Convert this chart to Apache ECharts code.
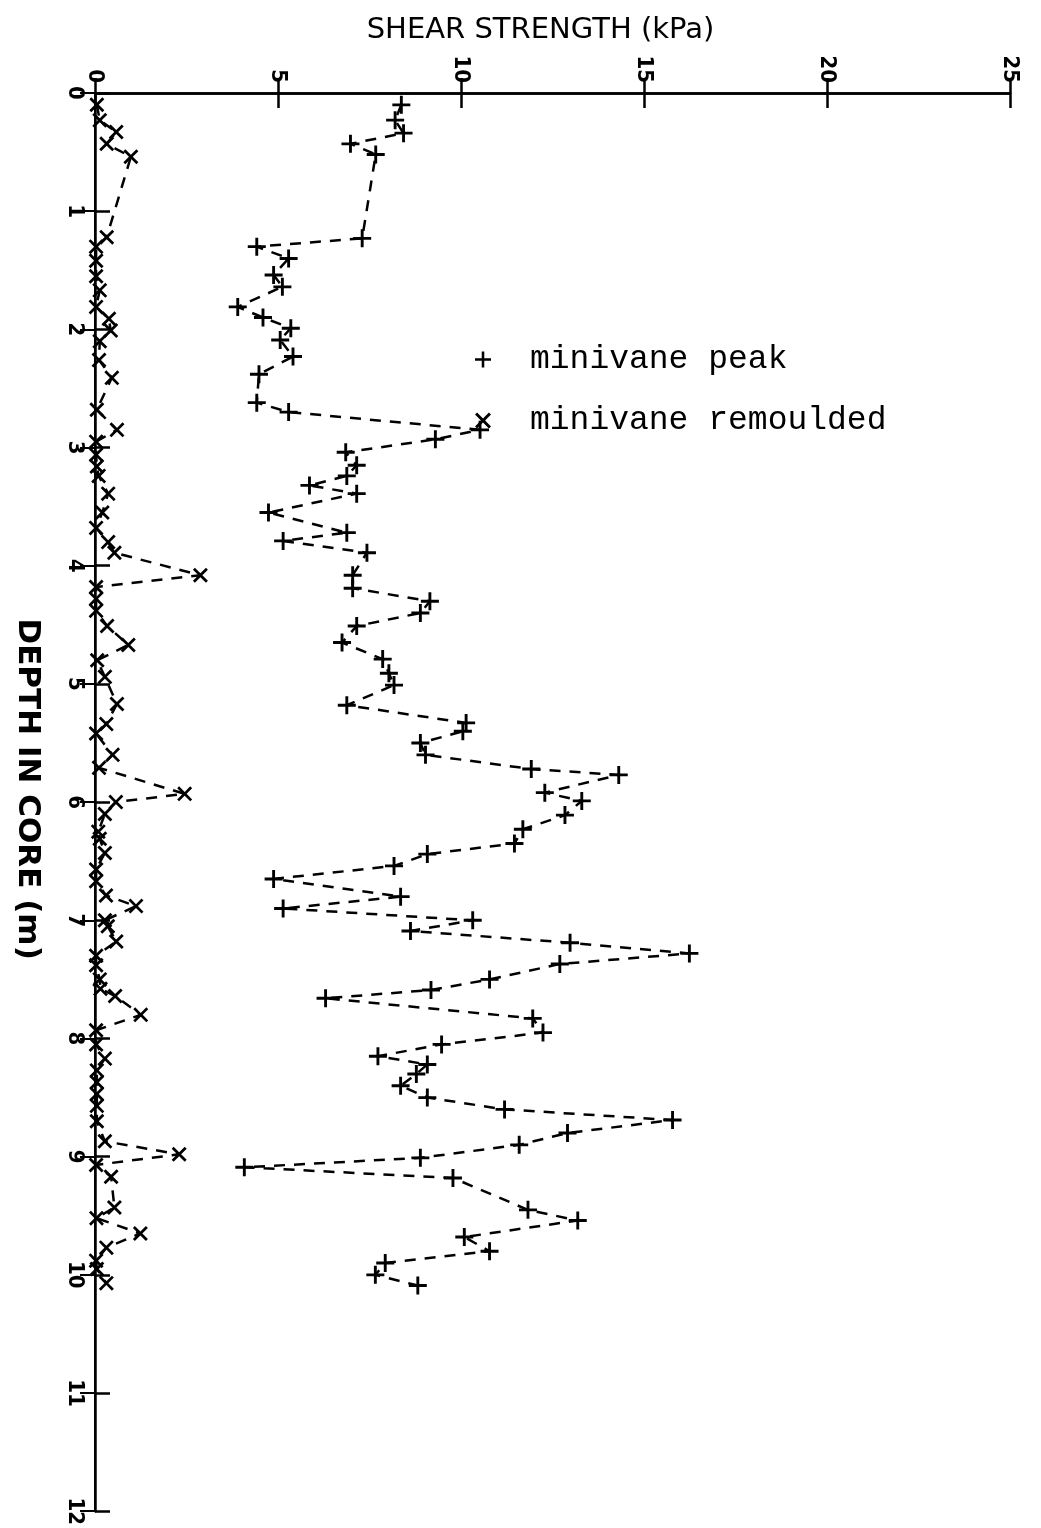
<!DOCTYPE html>
<html>
<head>
<meta charset="utf-8">
<script src="https://cdn.jsdelivr.net/npm/echarts@6/dist/echarts.min.js"></script>
<style>
  html, body { margin: 0; padding: 0; background: #fff; }
  #chart { width: 1041px; height: 1528px; }
</style>
</head>
<body>
<div id="chart"></div>
<script>
// Shear strength axis (kPa) and depth axis (m)
const strengthTicks = [0, 5, 10, 15, 20, 25];
const depthTicks = [0, 1, 2, 3, 4, 5, 6, 7, 8, 9, 10, 11, 12];

// Minivane peak: depth (m) and shear strength (kPa)
const peakDepth = [
  0.10, 0.23, 0.34, 0.43, 0.52, 1.23, 1.30, 1.40, 1.54, 1.64,
  1.81, 1.90, 1.99, 2.09, 2.23, 2.38, 2.62, 2.70, 2.85, 2.93,
  3.04, 3.15, 3.24, 3.32, 3.39, 3.55, 3.72, 3.79, 3.89, 4.08,
  4.19, 4.30, 4.40, 4.51, 4.65, 4.79, 4.91, 5.01, 5.18, 5.33,
  5.40, 5.50, 5.60, 5.72, 5.77, 5.92, 5.99, 6.11, 6.23, 6.35,
  6.44, 6.54, 6.65, 6.80, 6.90, 7.00, 7.09, 7.19, 7.28, 7.37,
  7.50, 7.59, 7.66, 7.83, 7.95, 8.05, 8.15, 8.22, 8.30, 8.40,
  8.50, 8.60, 8.69, 8.80, 8.90, 9.01, 9.09, 9.18, 9.45, 9.54,
  9.68, 9.80, 9.90, 10.00, 10.09
];
const peakStrength = [
  8.37, 8.20, 8.43, 6.98, 7.67, 7.30, 4.42, 5.29, 4.88, 5.12,
  3.90, 4.59, 5.35, 5.06, 5.41, 4.48, 4.42, 5.29, 10.52, 9.30,
  6.85, 7.15, 6.88, 5.86, 7.15, 4.74, 6.88, 5.14, 7.43, 7.04,
  7.04, 9.15, 8.89, 7.15, 6.75, 7.86, 8.03, 8.17, 6.88, 10.14,
  10.05, 8.89, 9.03, 11.92, 14.31, 12.29, 13.30, 12.84, 11.69, 11.46,
  9.08, 8.17, 4.88, 8.35, 5.14, 10.32, 8.62, 12.98, 16.24, 12.70,
  10.78, 9.18, 6.30, 11.96, 12.24, 9.47, 7.73, 9.08, 8.78, 8.35,
  9.08, 11.19, 15.78, 12.91, 11.59, 8.89, 4.08, 9.78, 11.83, 13.19,
  10.09, 10.78, 7.93, 7.66, 8.82
];

// Minivane remoulded: depth (m) and shear strength (kPa)
const remDepth = [
  0.10, 0.23, 0.33, 0.43, 0.54, 1.22, 1.30, 1.42, 1.55, 1.67,
  1.81, 1.91, 2.01, 2.10, 2.26, 2.41, 2.68, 2.85, 2.95, 3.06,
  3.16, 3.24, 3.39, 3.55, 3.68, 3.80, 3.89, 4.08, 4.18, 4.28,
  4.38, 4.51, 4.67, 4.80, 4.94, 5.17, 5.34, 5.42, 5.60, 5.71,
  5.93, 6.00, 6.10, 6.25, 6.31, 6.43, 6.57, 6.67, 6.79, 6.88,
  7.00, 7.05, 7.18, 7.30, 7.38, 7.50, 7.58, 7.64, 7.80, 7.93,
  8.05, 8.17, 8.27, 8.37, 8.47, 8.57, 8.70, 8.87, 8.98, 9.07,
  9.17, 9.43, 9.52, 9.65, 9.77, 9.88, 9.95, 10.07
];
const remStrength = [
  0.05, 0.13, 0.58, 0.32, 0.98, 0.32, 0.03, 0.03, 0.03, 0.13,
  0.03, 0.38, 0.43, 0.13, 0.11, 0.46, 0.05, 0.60, 0.03, 0.03,
  0.05, 0.10, 0.36, 0.20, 0.03, 0.36, 0.53, 2.88, 0.03, 0.03,
  0.03, 0.33, 0.91, 0.06, 0.27, 0.60, 0.31, 0.03, 0.48, 0.11,
  2.45, 0.57, 0.27, 0.09, 0.13, 0.27, 0.03, 0.03, 0.30, 1.12,
  0.27, 0.35, 0.58, 0.03, 0.03, 0.13, 0.15, 0.55, 1.25, 0.03,
  0.03, 0.27, 0.05, 0.05, 0.05, 0.05, 0.05, 0.27, 2.30, 0.03,
  0.44, 0.53, 0.04, 1.24, 0.31, 0.03, 0.05, 0.31
];

const peakPairs = peakDepth.map((d, i) => [peakStrength[i], d]);
const remPairs = remDepth.map((d, i) => [remStrength[i], d]);

// Marker shapes: an upright cross and a diagonal cross
const PLUS = 'path://M8.4,0H11.6V8.4H20V11.6H11.6V20H8.4V11.6H0V8.4H8.4Z';
const CROSS = 'path://M0,2.6L2.6,0L10,7.4L17.4,0L20,2.6L12.6,10L20,17.4L17.4,20L10,12.6L2.6,20L0,17.4L7.4,10Z';

const INK = '#000';
const tickFont = {
  fontFamily: '"DejaVu Sans Condensed", "Liberation Sans Narrow", "DejaVu Sans"',
  fontWeight: 'bold',
  fontSize: 22,
  color: INK
};

const chart = echarts.init(document.getElementById('chart'), null, { renderer: 'canvas' });

chart.setOption({
  animation: false,
  backgroundColor: '#fff',
  grid: { left: 95, top: 93, right: 31, bottom: 16, containLabel: false },
  legend: {
    orient: 'vertical',
    left: 470,
    top: 338,
    itemWidth: 16,
    itemHeight: 16,
    itemGap: 28,
    selectedMode: false,
    textStyle: { fontFamily: 'Liberation Mono', fontSize: 33, color: INK, padding: [0, 0, 0, 34] },
    data: [
      { name: 'minivane peak', icon: PLUS, itemStyle: { color: INK } },
      { name: 'minivane remoulded', icon: CROSS, itemStyle: { color: INK } }
    ]
  },
  xAxis: [
    {
      type: 'value',
      position: 'top',
      min: strengthTicks[0],
      max: strengthTicks[strengthTicks.length - 1],
      interval: strengthTicks[1] - strengthTicks[0],
      name: 'SHEAR STRENGTH (kPa)',
      nameLocation: 'middle',
      nameGap: 48,
      nameTextStyle: { fontFamily: 'DejaVu Sans', fontSize: 29, color: INK, padding: [0, 24, 0, 0] },
      axisLine: { show: true, lineStyle: { color: INK, width: 2.5 } },
      axisTick: { show: true, inside: true, length: 15, lineStyle: { color: INK, width: 2.5 } },
      axisLabel: Object.assign({ rotate: -90, margin: 10 }, tickFont),
      splitLine: { show: false }
    },
    {
      type: 'value',
      position: 'bottom',
      min: strengthTicks[0],
      max: strengthTicks[strengthTicks.length - 1],
      interval: strengthTicks[1] - strengthTicks[0],
      axisLine: { show: true, lineStyle: { color: INK, width: 2.5 } },
      axisTick: { show: true, inside: true, length: 15, lineStyle: { color: INK, width: 2.5 } },
      axisLabel: { show: false },
      splitLine: { show: false }
    }
  ],
  yAxis: [
    {
      type: 'value',
      position: 'left',
      inverse: true,
      min: depthTicks[0],
      max: depthTicks[depthTicks.length - 1],
      interval: depthTicks[1] - depthTicks[0],
      name: 'DEPTH IN CORE (m)',
      nameLocation: 'middle',
      nameRotate: -90,
      nameGap: 52,
      nameTextStyle: { fontFamily: 'DejaVu Sans', fontWeight: 'bold', fontSize: 31, color: INK, padding: [0, 26, 0, 0] },
      axisLine: { show: true, lineStyle: { color: INK, width: 2.5 } },
      axisTick: { show: true, inside: true, length: 15, lineStyle: { color: INK, width: 2.5 } },
      axisLabel: Object.assign({ rotate: -90, margin: 9 }, tickFont),
      splitLine: { show: false }
    },
    {
      type: 'value',
      position: 'right',
      inverse: true,
      min: depthTicks[0],
      max: depthTicks[depthTicks.length - 1],
      interval: depthTicks[1] - depthTicks[0],
      axisLine: { show: true, lineStyle: { color: INK, width: 2 } },
      axisTick: { show: true, inside: true, length: 15, lineStyle: { color: INK, width: 2 } },
      axisLabel: { show: false },
      splitLine: { show: false }
    }
  ],
  series: [
    {
      name: 'minivane peak',
      type: 'line',
      xAxisIndex: 0,
      yAxisIndex: 0,
      data: peakPairs,
      symbol: PLUS,
      symbolSize: 18,
      showAllSymbol: true,
      itemStyle: { color: INK },
      lineStyle: { color: INK, width: 2.5, type: [11, 9] },
      silent: true
    },
    {
      name: 'minivane remoulded',
      type: 'line',
      xAxisIndex: 0,
      yAxisIndex: 0,
      data: remPairs,
      symbol: CROSS,
      symbolSize: 15,
      showAllSymbol: true,
      itemStyle: { color: INK },
      lineStyle: { color: INK, width: 2.5, type: [11, 9] },
      silent: true
    }
  ]
});
</script>
</body>
</html>
